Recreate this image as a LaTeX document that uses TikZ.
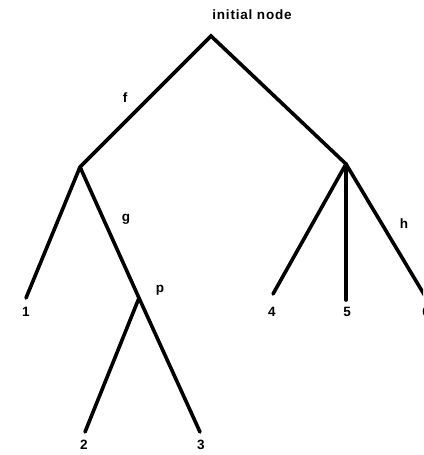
\documentclass[tikz,border=0pt]{standalone}
\usepackage{fontspec}
\setmainfont{Liberation Sans}[LetterSpace=6]
\begin{document}
\begin{tikzpicture}[x=1pt,y=-1pt,
  edge/.style={line width=3.6pt,line cap=round},
  lbl/.style={font=\bfseries\fontsize{13.5}{14}\selectfont,inner sep=0pt}]
\useasboundingbox (0,0) rectangle (423,455);
\clip (0,0) rectangle (423,455);
\coordinate (root) at (211,36);
\coordinate (L) at (80,167);
\coordinate (R) at (346,164);
\coordinate (P) at (139,298);
\coordinate (n1) at (26,298);
\coordinate (n2) at (85,432);
\coordinate (n3) at (200,432);
\coordinate (n4) at (273,294);
\coordinate (n5) at (346,300);
\coordinate (n6) at (425,296);
\draw[edge] (L) -- (root) -- (R);
\draw[edge] (L) -- (n1);
\draw[edge] (L) -- (P) -- (n3);
\draw[edge] (P) -- (n2);
\draw[edge] (R) -- (n4);
\draw[edge] (R) -- (n5);
\draw[edge] (R) -- (n6);
\node[lbl] (tinit) at (252,15) {initial node};
\node[lbl] (tf) at (125,98) {f};
\node[lbl] (tg) at (126,219) {g};
\node[lbl] (th) at (404,224) {h};
\node[lbl] (tp) at (160,290) {p};
\node[lbl] (t1) at (26,312) {1};
\node[lbl] (t2) at (84,445) {2};
\node[lbl] (t3) at (201,445) {3};
\node[lbl] (t4) at (272,312) {4};
\node[lbl] (t5) at (347,312) {5};
\node[lbl] (t6) at (426,312) {6};
\end{tikzpicture}
\end{document}
